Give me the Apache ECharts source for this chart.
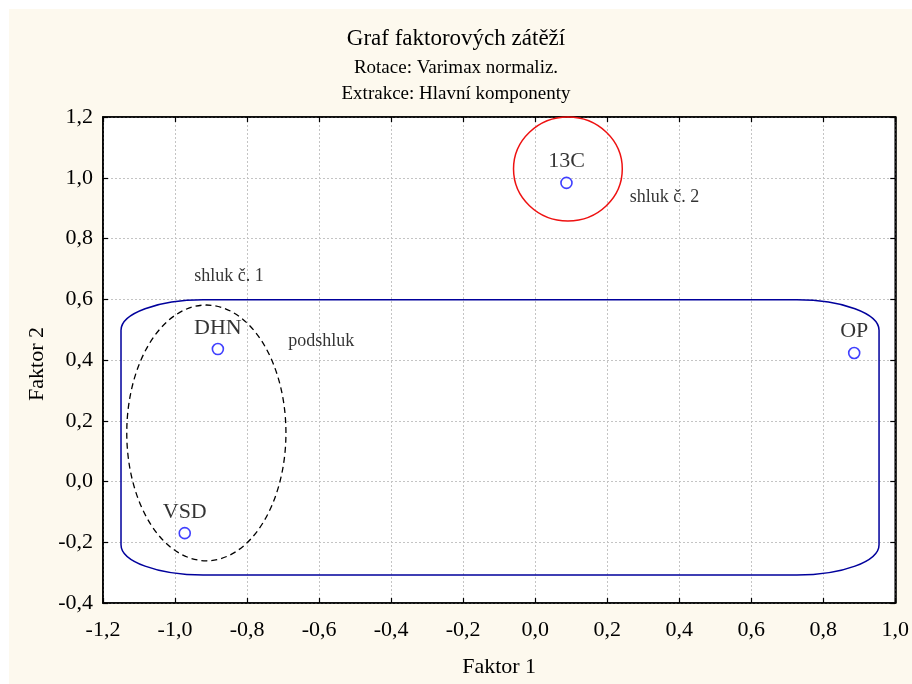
<!DOCTYPE html>
<html>
<head>
<meta charset="utf-8">
<script src="https://cdn.jsdelivr.net/npm/echarts@6/dist/echarts.min.js"></script>
<style>
  html, body { margin: 0; padding: 0; background: #ffffff; }
  #chart { width: 912px; height: 684px; }
</style>
</head>
<body>
<div id="chart"></div>
<script>
// Factor loadings (Faktor 1, Faktor 2)
const variableNames = ['13C', 'DHN', 'VSD', 'OP'];
const factor1 = [0.087, -0.881, -0.973, 0.886];
const factor2 = [0.983, 0.436, -0.170, 0.423];

// Axis ticks
const xTicks = [-1.2, -1.0, -0.8, -0.6, -0.4, -0.2, 0.0, 0.2, 0.4, 0.6, 0.8, 1.0];
const yTicks = [-0.4, -0.2, 0.0, 0.2, 0.4, 0.6, 0.8, 1.0, 1.2];

// Cluster outlines in factor units
// ellipses: [centre x, centre y, radius x, radius y]
const cluster2Ellipse = [0.091, 1.029, 0.151, 0.171];
const subclusterEllipse = [-0.913, 0.160, 0.221, 0.421];
// rounded box: [x1, y1, x2, y2, corner x, corner y]
const cluster1Box = [-1.150, 0.598, 0.955, -0.308, 0.228, 0.100];

// Annotation texts and their positions
const noteTexts = ['shluk č. 1', 'shluk č. 2', 'podshluk'];
const noteX = [-0.850, 0.359, -0.594];
const noteY = [0.677, 0.935, 0.463];

const serif = '"Liberation Serif", "DejaVu Serif", serif';
const fmt = v => v.toFixed(1).replace('.', ',');

function ellipsePath(api, e) {
  const c = api.coord([e[0], e[1]]);
  const px = api.coord([e[0] + e[2], e[1]]);
  const py = api.coord([e[0], e[1] + e[3]]);
  const rx = Math.abs(px[0] - c[0]);
  const ry = Math.abs(c[1] - py[1]);
  return `M ${c[0] - rx} ${c[1]} A ${rx} ${ry} 0 1 0 ${c[0] + rx} ${c[1]} A ${rx} ${ry} 0 1 0 ${c[0] - rx} ${c[1]} Z`;
}

function boxPath(api, b) {
  const tl = api.coord([b[0], b[1]]);
  const br = api.coord([b[2], b[3]]);
  const cr = api.coord([b[0] + b[4], b[1] - b[5]]);
  const rx = cr[0] - tl[0], ry = cr[1] - tl[1];
  const x1 = tl[0], y1 = tl[1], x2 = br[0], y2 = br[1];
  return `M ${x1 + rx} ${y1} L ${x2 - rx} ${y1} A ${rx} ${ry} 0 0 1 ${x2} ${y1 + ry} ` +
         `L ${x2} ${y2 - ry} A ${rx} ${ry} 0 0 1 ${x2 - rx} ${y2} ` +
         `L ${x1 + rx} ${y2} A ${rx} ${ry} 0 0 1 ${x1} ${y2 - ry} ` +
         `L ${x1} ${y1 + ry} A ${rx} ${ry} 0 0 1 ${x1 + rx} ${y1} Z`;
}

const outlines = [
  { kind: 'box', params: cluster1Box, color: '#00009c', dash: null, width: 1.5 },
  { kind: 'ellipse', params: cluster2Ellipse, color: '#ee1111', dash: null, width: 1.5 },
  { kind: 'ellipse', params: subclusterEllipse, color: '#000000', dash: [6, 4], width: 1.3 }
];

const chart = echarts.init(document.getElementById('chart'), null, { renderer: 'canvas' });

const axisCommon = {
  min: xTicks[0],
  interval: 0.2,
  axisLine: { show: true, onZero: false, lineStyle: { color: '#000', width: 1.6 } },
  axisTick: { show: true, inside: true, length: 5, lineStyle: { color: '#000', width: 1.2 } }
};

chart.setOption({
  backgroundColor: '#ffffff',
  animation: false,
  graphic: [
    {
      type: 'rect', z: -10, silent: true,
      shape: { x: 9, y: 9, width: 903, height: 675 },
      style: { fill: '#fdf9ee' }
    },
    {
      type: 'text', silent: true,
      x: 37, y: 364, rotation: Math.PI / 2,
      style: {
        text: 'Faktor 2', fontFamily: serif, fontSize: 22, fill: '#000',
        align: 'center', verticalAlign: 'middle'
      }
    }
  ],
  title: [
    { text: 'Graf faktorových zátěží', left: 'center', top: 22,
      textStyle: { fontFamily: serif, fontSize: 23, fontWeight: 'normal', color: '#000' } },
    { text: 'Rotace: Varimax normaliz.', left: 'center', top: 54,
      textStyle: { fontFamily: serif, fontSize: 19, fontWeight: 'normal', color: '#000' } },
    { text: 'Extrakce: Hlavní komponenty', left: 'center', top: 80,
      textStyle: { fontFamily: serif, fontSize: 19, fontWeight: 'normal', color: '#000' } }
  ],
  grid: {
    left: 103, right: 16, top: 117, bottom: 81,
    show: true, backgroundColor: '#ffffff', borderColor: '#000', borderWidth: 1.6
  },
  xAxis: [
    Object.assign({}, axisCommon, {
      type: 'value', position: 'bottom', max: xTicks[xTicks.length - 1],
      name: 'Faktor 1', nameLocation: 'middle', nameGap: 53,
      nameTextStyle: { fontFamily: serif, fontSize: 22, color: '#000' },
      axisLabel: { formatter: fmt, fontFamily: serif, fontSize: 22, color: '#000', margin: 16 },
      splitLine: { show: true, lineStyle: { color: '#c4c4c4', type: [2, 2], width: 1 } }
    }),
    Object.assign({}, axisCommon, {
      type: 'value', position: 'top', max: xTicks[xTicks.length - 1],
      axisLabel: { show: false }, splitLine: { show: false }
    })
  ],
  yAxis: [
    Object.assign({}, axisCommon, {
      type: 'value', position: 'left', min: yTicks[0], max: yTicks[yTicks.length - 1],
      axisLabel: { formatter: fmt, fontFamily: serif, fontSize: 22, color: '#000', margin: 10 },
      splitLine: { show: true, lineStyle: { color: '#c4c4c4', type: [2, 2], width: 1 } }
    }),
    Object.assign({}, axisCommon, {
      type: 'value', position: 'right', min: yTicks[0], max: yTicks[yTicks.length - 1],
      axisLabel: { show: false }, splitLine: { show: false }
    })
  ],
  series: [
    {
      type: 'custom',
      coordinateSystem: 'cartesian2d',
      silent: true,
      z: 3,
      data: outlines.map((o, i) => [i]),
      renderItem: function (params, api) {
        const o = outlines[params.dataIndex];
        const d = o.kind === 'box' ? boxPath(api, o.params) : ellipsePath(api, o.params);
        return {
          type: 'path',
          shape: { pathData: d },
          style: { fill: 'none', stroke: o.color, lineWidth: o.width, lineDash: o.dash }
        };
      }
    },
    {
      type: 'scatter',
      z: 5,
      symbol: 'circle',
      symbolSize: 11,
      itemStyle: { color: '#ffffff', borderColor: '#1010ff', borderWidth: 1.6 },
      label: {
        show: true, position: 'top', distance: 4,
        formatter: p => variableNames[p.dataIndex],
        fontFamily: serif, fontSize: 22, color: '#000'
      },
      data: factor1.map((x, i) => [x, factor2[i]])
    },
    {
      type: 'scatter',
      z: 4,
      symbol: 'circle',
      symbolSize: 1,
      silent: true,
      itemStyle: { color: 'rgba(0,0,0,0)' },
      label: {
        show: true, position: 'inside',
        formatter: p => noteTexts[p.dataIndex],
        fontFamily: serif, fontSize: 18, color: '#000'
      },
      data: noteX.map((x, i) => [x, noteY[i]])
    }
  ]
});
</script>
</body>
</html>
